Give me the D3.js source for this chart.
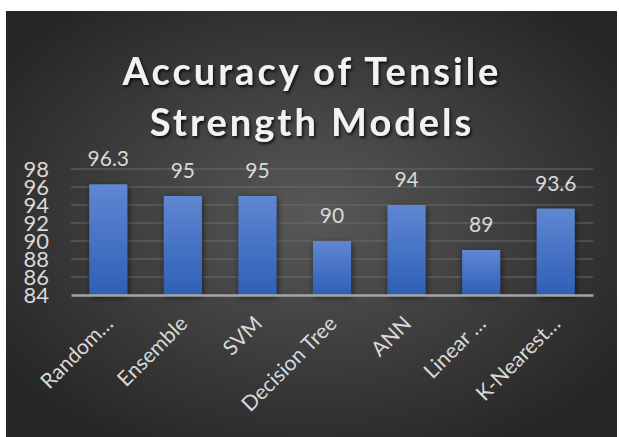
<!DOCTYPE html>
<html>
<head>
<meta charset="utf-8">
<script src="https://cdn.jsdelivr.net/npm/d3@7"></script>
<style>
  body { margin: 0; background: #fff; }
  svg { display: block; }
</style>
</head>
<body>
<div id="chart"></div>
<script>
var models = ["Random…", "Ensemble", "SVM", "Decision Tree", "ANN", "Linear …", "K-Nearest…"];
var accuracy = [96.3, 95, 95, 90, 94, 89, 93.6];
var yTicks = [84, 86, 88, 90, 92, 94, 96, 98];
var titleLines = ["Accuracy of Tensile", "Strength Models"];

var W = 619, H = 437;
var svg = d3.select('#chart').append('svg')
    .attr('width', W)
    .attr('height', H);

var defs = svg.append('defs');

// background radial gradient
var bg = defs.append('radialGradient')
    .attr('id', 'bg')
    .attr('cx', '50%').attr('cy', '48%').attr('r', '62%');
bg.append('stop').attr('offset', '0%').attr('stop-color', '#585858');
bg.append('stop').attr('offset', '100%').attr('stop-color', '#262626');

// bar gradient
var bar = defs.append('linearGradient')
    .attr('id', 'barGrad')
    .attr('x1', 0).attr('y1', 0).attr('x2', 0).attr('y2', 1);
bar.append('stop').attr('offset', '0%').attr('stop-color', '#5f87d2');
bar.append('stop').attr('offset', '100%').attr('stop-color', '#2f5fb6');

var shadow = defs.append('filter').attr('id', 'shadow')
    .attr('x', '-30%').attr('y', '-30%').attr('width', '160%').attr('height', '160%');
shadow.append('feDropShadow')
    .attr('dx', 1).attr('dy', 2).attr('stdDeviation', 3)
    .attr('flood-color', '#000').attr('flood-opacity', 0.6);

var tshadow = defs.append('filter').attr('id', 'tshadow')
    .attr('x', '-10%').attr('y', '-30%').attr('width', '120%').attr('height', '160%');
tshadow.append('feDropShadow')
    .attr('dx', 1.5).attr('dy', 2).attr('stdDeviation', 1.5)
    .attr('flood-color', '#000').attr('flood-opacity', 0.8);

svg.append('rect')
    .attr('x', 6).attr('y', 11)
    .attr('width', 611).attr('height', 426)
    .attr('fill', 'url(#bg)');

// Title
svg.append('g').selectAll('text')
    .data(titleLines)
    .enter()
    .append('text')
    .attr('x', 312)
    .attr('y', function(d, i) { return 85 + i * 51; })
    .attr('text-anchor', 'middle')
    .attr('fill', '#f2f2f2')
    .attr('font-family', 'Lato, "Open Sans", sans-serif')
    .attr('font-weight', 'bold')
    .attr('font-size', 38)
    .attr('letter-spacing', 3)
    .attr('filter', 'url(#tshadow)')
    .text(function(d) { return d; });

var margin = {left: 71, right: 26, top: 169, bottom: 142};
var width = W - margin.left - margin.right;
var height = H - margin.top - margin.bottom;

var graph = svg.append('g')
    .attr('transform', 'translate(' + margin.left + ',' + margin.top + ')');

var x = d3.scaleBand()
    .domain(models)
    .range([0, width])
    .paddingInner(0.49)
    .paddingOuter(0.245);

var y = d3.scaleLinear()
    .domain([84, 98])
    .range([height, 0]);

// gridlines
graph.append('g')
    .selectAll('line')
    .data(yTicks.slice(1))
    .enter()
    .append('line')
    .attr('x1', 0).attr('x2', width)
    .attr('y1', function(d) { return y(d); })
    .attr('y2', function(d) { return y(d); })
    .attr('stroke', '#6a6a6a')
    .attr('stroke-width', 1);

// y axis
var yAxis = d3.axisLeft(y).tickValues(yTicks).tickSize(0).tickPadding(0);
var yg = graph.append('g')
    .attr('transform', 'translate(-22,0)')
    .call(yAxis);
yg.select('.domain').remove();
yg.selectAll('text')
    .attr('fill', '#d9d9d9')
    .attr('font-family', 'Lato, "Open Sans", sans-serif')
    .attr('font-size', 22)
    .attr('dy', '0.36em');

// bars
graph.append('g').selectAll('rect')
    .data(accuracy)
    .enter()
    .append('rect')
    .attr('x', function(d, i) { return x(models[i]); })
    .attr('width', x.bandwidth())
    .attr('y', function(d) { return y(d); })
    .attr('height', function(d) { return y(84) - y(d); })
    .attr('fill', 'url(#barGrad)')
    .attr('filter', 'url(#shadow)');

// data labels
graph.append('g').selectAll('text')
    .data(accuracy)
    .enter()
    .append('text')
    .attr('x', function(d, i) { return x(models[i]) + x.bandwidth() / 2; })
    .attr('y', function(d) { return y(d) - 18; })
    .attr('text-anchor', 'middle')
    .attr('fill', '#d9d9d9')
    .attr('font-family', 'Lato, "Open Sans", sans-serif')
    .attr('font-size', 21)
    .text(function(d) { return d; });

// x axis
var xAxis = d3.axisBottom(x).tickSize(0).tickPadding(0);
var xg = graph.append('g')
    .attr('transform', 'translate(0,' + y(84) + ')')
    .call(xAxis);
xg.select('.domain')
    .attr('stroke', '#a6a6a6')
    .attr('stroke-width', 2.5);
xg.selectAll('text')
    .attr('fill', '#d9d9d9')
    .attr('font-family', 'Lato, "Open Sans", sans-serif')
    .attr('font-size', 21)
    .style('text-anchor', 'end')
    .attr('y', 0)
    .attr('dx', 0)
    .attr('dy', 0)
    .attr('transform', 'translate(6,30) rotate(-45)');
</script>
</body>
</html>
